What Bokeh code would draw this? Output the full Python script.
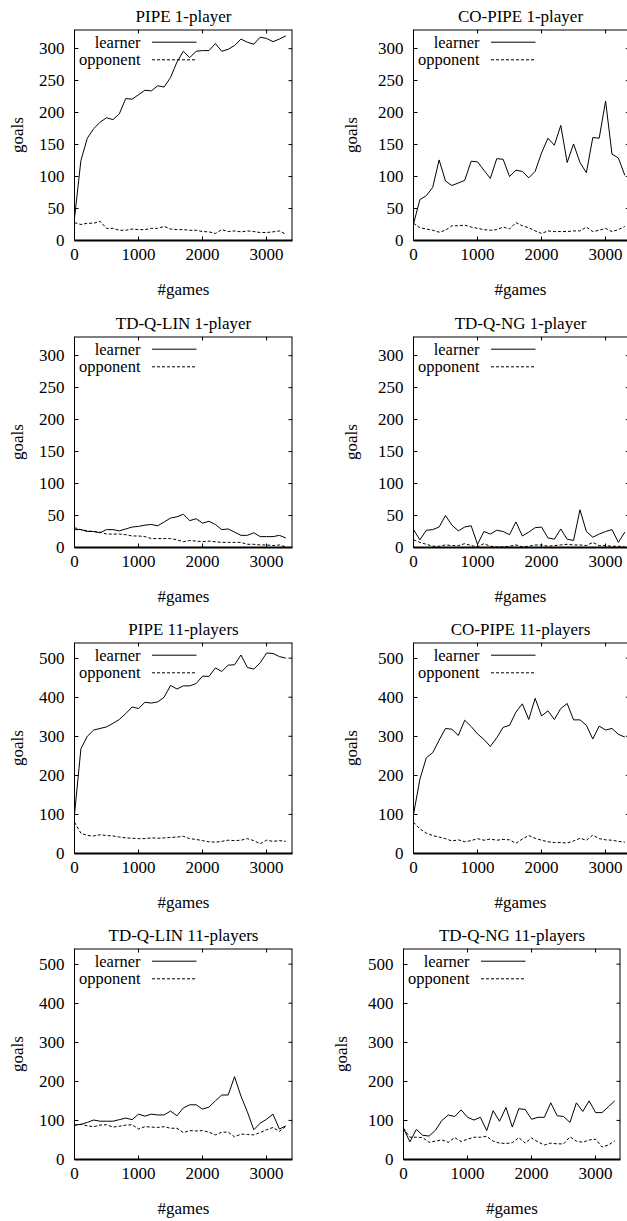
from bokeh.plotting import figure
from bokeh.layouts import column, row
from bokeh.models import LinearAxis, Range1d, FixedTicker
from bokeh.embed import file_html
from bokeh.resources import INLINE
from bokeh.core.properties import value

games = [0, 100, 200, 300, 400, 500, 600, 700, 800, 900, 1000, 1100, 1200, 1300, 1400, 1500, 1600,
         1700, 1800, 1900, 2000, 2100, 2200, 2300, 2400, 2500, 2600, 2700, 2800, 2900, 3000, 3100, 3200, 3300]

titles = ["PIPE 1-player", "CO-PIPE 1-player", "TD-Q-LIN 1-player", "TD-Q-NG 1-player",
          "PIPE 11-players", "CO-PIPE 11-players", "TD-Q-LIN 11-players", "TD-Q-NG 11-players"]
series_names = ["learner", "opponent"]
x_ticks = [0, 1000, 2000, 3000]
y_ticks_1 = [0, 50, 100, 150, 200, 250, 300]
y_ticks_11 = [0, 100, 200, 300, 400, 500]

pipe1_learner = [35, 125, 160, 175, 185, 192, 189, 198, 222, 221, 228, 235, 234, 242, 240, 255, 279,
                 296, 286, 296, 297, 297, 308, 296, 299, 305, 315, 310, 307, 318, 316, 311, 315, 320]
pipe1_opponent = [28, 25, 27, 27, 30, 19, 19, 16, 16, 18, 17, 17, 19, 19, 22, 18, 17,
                  17, 16, 16, 14, 13.5, 11, 17, 14, 15, 13.5, 15, 14, 12.5, 12.5, 13.5, 15, 10]

copipe1_learner = [26, 64, 70, 83, 126, 93, 86, 90, 94, 124, 123, 110, 97, 128, 127, 100, 110,
                   108, 98, 108, 137, 160, 149, 180, 122, 151, 122, 106, 161, 160, 218, 135, 129, 102]
copipe1_opponent = [27, 20, 18, 16, 13, 16, 23, 23, 24, 21, 19, 17, 16, 17, 21, 18, 28,
                    23, 20, 15, 11, 15, 14, 14, 14, 15, 15, 21, 14, 16, 19, 14, 17, 22]

tdqlin1_learner = [28, 28, 25, 25, 23, 28, 28, 26, 29, 32, 33, 35, 36, 34, 40, 46, 48,
                   52, 42, 45, 38, 41, 36, 28, 29, 24, 19, 19, 23, 17, 17, 17, 19, 15]
tdqlin1_opponent = [31, 28, 26, 25, 24, 21, 21, 21, 20, 18, 18, 17, 14, 14, 14, 14, 12,
                    9, 11, 10, 9, 10, 9, 8, 8, 8, 8, 5, 5, 4, 4, 3, 4, 1]

tdqng1_learner = [28, 12, 27, 28, 32, 50, 35, 26, 32, 34, 5, 25, 21, 27, 25, 20, 40,
                  18, 24, 31, 32, 15, 13, 29, 13, 11, 59, 25, 16, 21, 25, 28, 8, 24]
tdqng1_opponent = [12, 8, 5, 2, 2, 4, 3, 3, 6, 3, 1, 6, 2, 1, 1, 2, 4,
                   1, 2, 4, 4, 2, 3, 4, 5, 4, 4, 3, 8, 3, 3, 2, 2, 1]

pipe11_learner = [100, 268, 300, 316, 320, 324, 333, 343, 358, 375, 371, 387, 385, 388, 400, 430, 421,
                  429, 429, 435, 454, 453, 475, 466, 482, 483, 508, 476, 472, 488, 513, 512, 504, 500]
pipe11_opponent = [80, 52, 46, 45, 48, 46, 45, 42, 40, 39, 38, 38, 40, 39, 40, 41, 42,
                   44, 38, 36, 33, 30, 29, 31, 34, 33, 34, 38, 33, 25, 34, 31, 33, 31]

copipe11_learner = [100, 190, 245, 258, 290, 320, 318, 302, 341, 325, 306, 292, 274, 296, 323, 328, 362,
                    383, 343, 397, 352, 365, 343, 371, 384, 342, 342, 328, 293, 326, 316, 320, 305, 298]
copipe11_opponent = [80, 63, 52, 46, 42, 38, 32, 35, 30, 33, 38, 34, 37, 34, 36, 35, 26,
                     37, 46, 39, 34, 30, 28, 28, 27, 32, 39, 34, 47, 38, 35, 34, 31, 29]

tdqlin11_learner = [88, 90, 95, 101, 98, 98, 98, 102, 106, 102, 116, 111, 116, 114, 114, 124, 112,
                    132, 140, 140, 129, 134, 150, 165, 165, 212, 162, 122, 76, 93, 103, 116, 78, 86]
tdqlin11_opponent = [88, 90, 86, 84, 88, 89, 83, 85, 88, 89, 78, 84, 83, 82, 84, 80, 80,
                     69, 74, 73, 74, 70, 63, 70, 70, 58, 65, 64, 63, 69, 76, 82, 72, 85]

tdqng11_learner = [80, 45, 77, 62, 60, 75, 100, 114, 110, 127, 108, 101, 108, 74, 125, 98, 133,
                   83, 130, 128, 103, 108, 108, 145, 112, 110, 95, 145, 123, 150, 120, 120, 135, 150]
tdqng11_opponent = [80, 57, 57, 56, 44, 47, 50, 44, 56, 46, 52, 57, 57, 59, 47, 42, 41,
                    43, 56, 42, 55, 45, 37, 42, 40, 40, 58, 47, 44, 50, 52, 32, 37, 48]

FONT = "Liberation Serif"
FS = "17px"
FS_KEY = "16.5px"
FULL_FW = 217.7    # frame width (px) that shows x from 0 to 3400
FULL_XMAX = 3400
FH = 211           # frame height
TICK = 4


def style_axis(ax, lw=1):
    ax.major_tick_in = TICK
    ax.major_tick_out = 0
    ax.minor_tick_in = 0
    ax.minor_tick_out = 0
    ax.major_tick_line_color = "black"
    ax.axis_line_color = "black"
    ax.axis_line_width = lw
    ax.major_label_text_font = FONT
    ax.major_label_text_font_size = FS
    ax.major_label_text_color = "black"
    ax.axis_label_text_font = FONT
    ax.axis_label_text_font_size = FS
    ax.axis_label_text_font_style = "normal"
    ax.axis_label_text_color = "black"


def make(title, learner, opponent, ymax, yticks, width, height, bl, fw, bt,
         right_border=True, ylab_standoff=9):
    br = width - bl - fw
    bb = height - bt - FH
    xmax = FULL_XMAX * fw / FULL_FW
    pxx = FULL_XMAX / FULL_FW      # data units per pixel (x)
    pxy = ymax / FH                # data units per pixel (y)
    p = figure(width=width, height=height, output_backend="svg", toolbar_location=None,
               x_range=Range1d(0, xmax), y_range=Range1d(0, ymax),
               x_axis_location=None, y_axis_location=None,
               min_border_left=bl, min_border_right=br, min_border_top=bt, min_border_bottom=bb)
    p.outline_line_color = None
    p.background_fill_color = "white"
    p.border_fill_color = "white"
    for g in p.grid:
        g.visible = False

    p.title.text = title
    p.title.align = "center"
    p.title.text_font = FONT
    p.title.text_font_size = FS
    p.title.text_font_style = "normal"
    p.title.text_color = "black"
    p.title.standoff = 8

    bottom = LinearAxis(ticker=FixedTicker(ticks=x_ticks), axis_label="#games")
    style_axis(bottom, lw=2)
    bottom.major_label_standoff = 8
    bottom.axis_label_standoff = 17
    p.add_layout(bottom, "below")

    left = LinearAxis(ticker=FixedTicker(ticks=yticks), axis_label="goals")
    style_axis(left)
    left.major_label_standoff = 10
    left.axis_label_standoff = ylab_standoff
    p.add_layout(left, "left")

    # mirrored border (top / right) with inward ticks, gnuplot style
    p.segment(x0=[0], y0=[ymax], x1=[xmax], y1=[ymax], line_color="black", line_width=2)
    n = len(x_ticks)
    p.segment(x0=x_ticks, x1=x_ticks, y0=[ymax] * n, y1=[ymax - TICK * pxy] * n,
              line_color="black", line_width=1)
    m = len(yticks)
    rx = FULL_XMAX * (fw + (0 if right_border else 2.3)) / FULL_FW
    p.segment(x0=[rx - TICK * pxx] * m, x1=[rx] * m, y0=yticks, y1=yticks,
              line_color="black", line_width=1)
    if right_border:
        p.segment(x0=[xmax], y0=[0], x1=[xmax], y1=[ymax], line_color="black", line_width=2)

    p.line(games, learner, line_color="black", line_width=1)
    p.line(games, opponent, line_color="black", line_width=1, line_dash="3 2")

    # gnuplot-style key: text right-aligned, sample line to its right
    tx = 66 * pxx
    lx0, lx1 = 77.5 * pxx, 122 * pxx
    ys = [ymax - 12.7 * pxy, ymax - 30.3 * pxy]
    p.text(x=[tx, tx], y=ys, text=series_names, text_align="right", text_baseline="middle",
           text_font=value(FONT), text_font_size=FS_KEY, text_color="black")
    p.line([lx0, lx1], [ys[0], ys[0]], line_color="black", line_width=1)
    p.line([lx0, lx1], [ys[1], ys[1]], line_color="black", line_width=1, line_dash="3 2")
    return p


LW, RW = 310, 317
rows_h = [307, 305, 307, 302]
rows_bt = [29, 29, 30, 29]

data = [
    (pipe1_learner, pipe1_opponent), (copipe1_learner, copipe1_opponent),
    (tdqlin1_learner, tdqlin1_opponent), (tdqng1_learner, tdqng1_opponent),
    (pipe11_learner, pipe11_opponent), (copipe11_learner, copipe11_opponent),
    (tdqlin11_learner, tdqlin11_opponent), (tdqng11_learner, tdqng11_opponent),
]

rows = []
for r in range(4):
    ymax = 330 if r < 2 else 540
    yticks = y_ticks_1 if r < 2 else y_ticks_11
    h = rows_h[r]
    bt = rows_bt[r]
    i = 2 * r
    pl = make(titles[i], data[i][0], data[i][1], ymax, yticks, LW, h, 74, 218, bt)
    if r < 3:
        pr = make(titles[i + 1], data[i + 1][0], data[i + 1][1], ymax, yticks, RW, h, 103, 214, bt,
                  right_border=False, ylab_standoff=14)
    else:
        pr = make(titles[i + 1], data[i + 1][0], data[i + 1][1], ymax, yticks, RW, h, 93, 217, bt,
                  right_border=True, ylab_standoff=14)
    rows.append(row(pl, pr))

layout = column(*rows)
open("out.html", "w").write(file_html(layout, INLINE))
